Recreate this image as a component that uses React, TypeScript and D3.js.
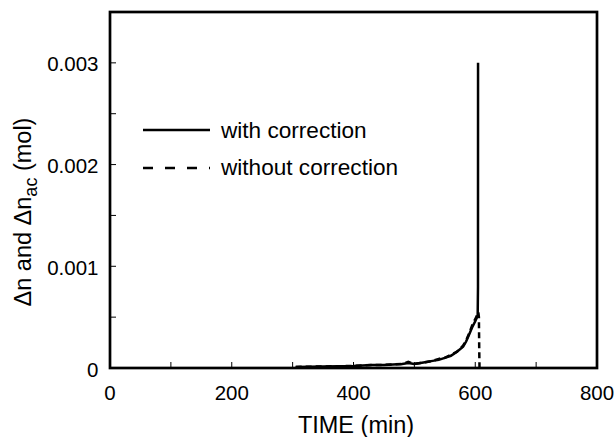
import React from "react";
import * as d3 from "d3";

const withTime = [305, 350, 400, 430, 450, 480, 490, 500, 510, 520, 530, 540, 550, 560, 570, 580, 585, 590, 595, 600, 603, 604, 604.5, 604.6];
const withValue = [0.00001, 0.000015, 0.00002, 0.00003, 0.00003, 0.00004, 0.00005, 0.00004, 0.00005, 0.00006, 0.00007, 0.00008, 0.0001, 0.00012, 0.00016, 0.00021, 0.00026, 0.00033, 0.0004, 0.00046, 0.0005, 0.00052, 0.0008, 0.003];
const withoutTime = [305, 350, 400, 430, 450, 480, 490, 500, 510, 520, 530, 540, 550, 560, 570, 580, 585, 590, 595, 600, 603, 605, 606, 606.5, 607];
const withoutValue = [0.00001, 0.000015, 0.00002, 0.00003, 0.00003, 0.00004, 0.00006, 0.00004, 0.00005, 0.00006, 0.00007, 0.00009, 0.0001, 0.00013, 0.00016, 0.00022, 0.00027, 0.00034, 0.00042, 0.00048, 0.00052, 0.00055, 0.0005, 0.0002, 0];
const xTicks = [0, 200, 400, 600, 800];
const xMinor = [100, 300, 500, 700];
const yTicks = [0, 0.001, 0.002, 0.003];
const yMinor = [0.0005, 0.0015, 0.0025];
const legendLabels = ["with correction", "without correction"];

export default function App() {
  const left = 110, right = 597, top = 12, bottom = 368;
  const x = d3.scaleLinear().domain([0, 800]).range([left, right]);
  const y = d3.scaleLinear().domain([0, 0.0035]).range([bottom, top]);
  const line = d3.line<[number, number]>().x(d => x(d[0])).y(d => y(d[1]));
  const s1 = line(withTime.map((t, i) => [t, withValue[i]]))!;
  const s2 = line(withoutTime.map((t, i) => [t, withoutValue[i]]))!;
  const font = "'Liberation Sans', Arial, sans-serif";
  return (
    <svg width={614} height={437} style={{ position: "absolute", left: 0, top: 0 }} fontFamily={font}>
      <rect width={614} height={437} fill="#fff" />
      {[...xTicks, ...xMinor].map(t => (
        <line key={"xt" + t} x1={x(t)} x2={x(t)} y1={bottom} y2={bottom - 6} stroke="#000" strokeWidth={1} />
      ))}
      {[...yTicks, ...yMinor].map(t => (
        <line key={"yt" + t} x1={left} x2={left + 6} y1={y(t)} y2={y(t)} stroke="#000" strokeWidth={1} />
      ))}
      {xTicks.map(t => (
        <text key={"xl" + t} x={x(t)} y={400} textAnchor="middle" fontSize={20.5}>{t}</text>
      ))}
      {yTicks.map(t => (
        <text key={"yl" + t} x={98.5} y={y(t) + 8.5} textAnchor="end" fontSize={20.5}>{t === 0 ? "0" : d3.format(".3f")(t)}</text>
      ))}
      <path d={s2} fill="none" stroke="#000" strokeWidth={2.5} strokeDasharray="6,4" />
      <path d={s1} fill="none" stroke="#000" strokeWidth={2.5} />
      <rect x={left} y={top} width={right - left} height={bottom - top} fill="none" stroke="#000" strokeWidth={2.7} />
      <line x1={143} x2={210} y1={130} y2={130} stroke="#000" strokeWidth={2.7} />
      <text x={221} y={137.5} fontSize={22.6}>{legendLabels[0]}</text>
      <line x1={143} x2={210} y1={168} y2={168} stroke="#000" strokeWidth={2.7} strokeDasharray="10,12" />
      <text x={221} y={175} fontSize={22.6}>{legendLabels[1]}</text>
      <text x={356} y={433} textAnchor="middle" fontSize={23.5}>TIME (min)</text>
      <text transform="translate(31,212) rotate(-90)" textAnchor="middle" fontSize={23.5}>
        Δn and Δn<tspan fontSize={18} dy={6}>ac</tspan><tspan dy={-6}> (mol)</tspan>
      </text>
    </svg>
  );
}
